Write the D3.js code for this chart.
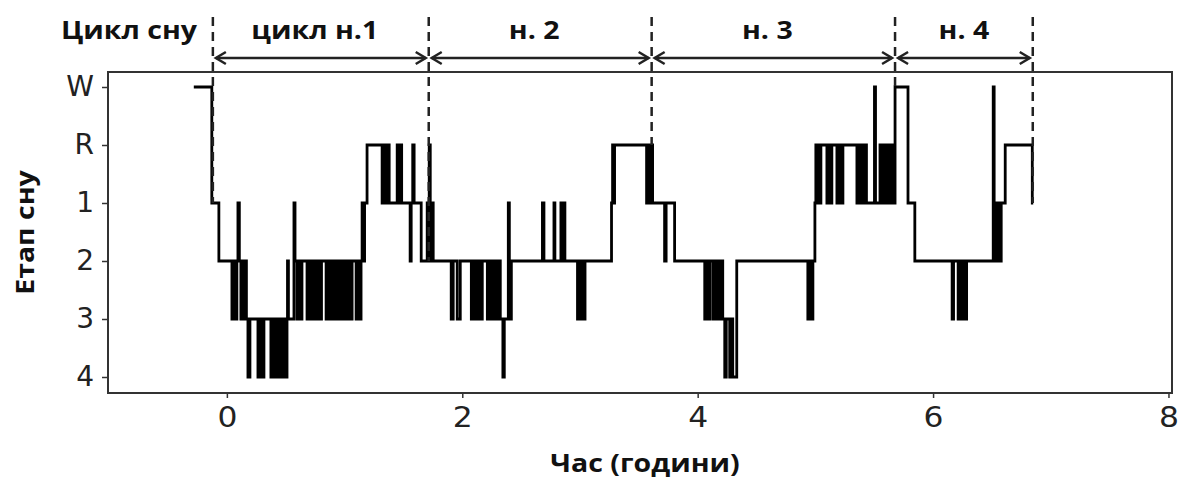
<!DOCTYPE html>
<html>
<head>
<meta charset="utf-8">
<script src="https://cdn.jsdelivr.net/npm/d3@7"></script>
<style>
  body { margin: 0; background: #fff; }
  svg { display: block; }
</style>
</head>
<body>
<svg id="chart"></svg>
<script>
// ── Data ──────────────────────────────────────────────────────────────────
// Sleep stages top to bottom, x ticks in hours
const stageLabels = ["W", "R", "1", "2", "3", "4"];
const hourTicks   = [0, 2, 4, 6, 8];

// Hypnogram as [hour, stage] change points (step after), one array per cycle
const cycle1Steps = [
  [-0.281, "W"], [-0.128, "1"], [-0.068, "2"],
  [0.043, "3"], [0.060, "2"], [0.068, "3"], [0.085, "2"], [0.094, "1"], [0.106, "2"],
  [0.119, "3"], [0.136, "2"], [0.145, "3"], [0.157, "2"], [0.166, "3"],
  [0.179, "4"], [0.196, "3"], [0.264, "4"], [0.281, "3"], [0.298, "4"], [0.315, "3"],
  [0.374, "4"], [0.391, "3"], [0.409, "4"], [0.426, "3"],
  [0.438, "4"], [0.451, "3"], [0.460, "4"], [0.472, "3"], [0.481, "4"], [0.494, "3"], [0.502, "4"], [0.511, "3"],
  [0.515, "2"], [0.523, "3"], [0.570, "1"], [0.579, "2"],
  [0.596, "3"], [0.613, "2"], [0.621, "3"], [0.638, "2"],
  [0.681, "3"], [0.698, "2"], [0.706, "3"], [0.723, "2"], [0.732, "3"], [0.749, "2"],
  [0.757, "3"], [0.774, "2"], [0.783, "3"], [0.804, "2"],
  [0.843, "3"], [0.860, "2"], [0.868, "3"], [0.885, "2"], [0.894, "3"], [0.911, "2"],
  [0.919, "3"], [0.936, "2"], [0.945, "3"], [0.962, "2"], [0.970, "3"], [0.987, "2"],
  [0.996, "3"], [1.013, "2"], [1.021, "3"], [1.038, "2"], [1.047, "3"], [1.064, "2"],
  [1.098, "3"], [1.115, "2"], [1.123, "3"], [1.140, "2"],
  [1.149, "1"], [1.162, "2"], [1.170, "1"], [1.191, "R"],
  [1.319, "1"], [1.336, "R"], [1.349, "1"], [1.362, "R"], [1.379, "1"],
  [1.447, "R"], [1.464, "1"], [1.472, "R"], [1.485, "1"],
  [1.557, "2"], [1.566, "1"], [1.579, "R"], [1.591, "1"], [1.651, "2"],
  [1.702, "1"], [1.711, "2"], [1.719, "R"], [1.728, "1"], [1.736, "2"], [1.745, "1"]
];

const cycle2Steps = [
  [1.753, "2"],
  [1.906, "3"], [1.923, "2"], [1.957, "3"], [1.983, "2"],
  [2.077, "3"], [2.089, "2"], [2.102, "3"], [2.119, "2"], [2.128, "3"], [2.145, "2"], [2.153, "3"], [2.170, "2"],
  [2.213, "3"], [2.230, "2"], [2.238, "3"], [2.251, "2"], [2.260, "3"], [2.272, "2"],
  [2.281, "3"], [2.294, "2"], [2.302, "3"], [2.315, "2"], [2.323, "3"],
  [2.345, "4"], [2.357, "3"], [2.391, "1"], [2.400, "2"], [2.409, "3"], [2.417, "2"],
  [2.681, "1"], [2.694, "2"], [2.779, "1"], [2.787, "2"],
  [2.838, "1"], [2.851, "2"], [2.860, "1"], [2.872, "2"],
  [2.979, "3"], [2.996, "2"], [3.004, "3"], [3.021, "2"], [3.030, "3"], [3.043, "2"],
  [3.268, "1"], [3.277, "R"], [3.285, "1"], [3.294, "R"],
  [3.566, "1"], [3.574, "R"], [3.583, "1"], [3.591, "R"], [3.600, "1"], [3.609, "R"], [3.617, "1"],
  [3.719, "2"], [3.732, "1"]
];

const cycle3Steps = [
  [3.804, "2"],
  [4.060, "3"], [4.077, "2"], [4.089, "3"], [4.102, "2"],
  [4.128, "3"], [4.140, "2"], [4.149, "3"], [4.162, "2"], [4.170, "3"], [4.183, "2"],
  [4.191, "3"], [4.204, "2"], [4.213, "3"],
  [4.230, "4"], [4.243, "3"], [4.272, "4"], [4.289, "3"], [4.298, "4"], [4.332, "2"],
  [4.936, "3"], [4.953, "2"], [4.962, "3"], [4.979, "2"],
  [4.996, "1"], [5.004, "R"], [5.013, "1"], [5.021, "R"], [5.034, "1"], [5.047, "R"],
  [5.098, "1"], [5.115, "R"], [5.128, "1"], [5.140, "R"],
  [5.183, "1"], [5.200, "R"], [5.217, "1"], [5.234, "R"],
  [5.353, "1"], [5.366, "R"], [5.379, "1"], [5.391, "R"], [5.404, "1"], [5.421, "R"], [5.434, "1"],
  [5.502, "W"], [5.511, "1"], [5.549, "R"], [5.566, "1"], [5.583, "R"],
  [5.600, "1"], [5.617, "R"], [5.634, "1"], [5.643, "R"], [5.660, "1"]
];

const cycle4Steps = [
  [5.677, "W"], [5.787, "1"], [5.845, "2"],
  [6.162, "3"], [6.174, "2"], [6.213, "3"], [6.230, "2"], [6.238, "3"], [6.255, "2"], [6.264, "3"], [6.285, "2"],
  [6.511, "W"], [6.519, "2"], [6.528, "1"], [6.540, "2"], [6.553, "1"], [6.570, "2"], [6.579, "1"],
  [6.613, "R"], [6.843, "1"], [6.851, "1"]
];

// Cycle boundaries (hours) and the labels between them
const cycleBounds = [-0.119, 1.715, 3.609, 5.677, 6.847];
const cycleNames  = ["цикл н.1", "н. 2", "н. 3", "н. 4"];
const cycleTitle  = "Цикл сну";
const xTitle      = "Час (години)";
const yTitle      = "Етап сну";

// ── Layout ────────────────────────────────────────────────────────────────
const W = 1180, H = 478;
const margin = { top: 72, right: 8, bottom: 85, left: 108 };
const w = W - margin.left - margin.right;
const h = H - margin.top - margin.bottom;
const arrowY = 58;
const stretch = 1.14;   // source lettering is wide

const root = d3.select("#chart").attr("width", W).attr("height", H);
root.append("rect").attr("width", W).attr("height", H).attr("fill", "#fff");

const svg = root.append("g")
    .attr("transform", `translate(${margin.left},${margin.top})`);

const steps = cycle1Steps.concat(cycle2Steps, cycle3Steps, cycle4Steps);

// ── Scales ────────────────────────────────────────────────────────────────
const x = d3.scaleLinear().domain([-1.01, 8.03]).range([0, w]);
const y = d3.scalePoint().domain(stageLabels).range([15, 305]);

function widen(sel, k) {
    sel.each(function() {
        const len = this.getComputedTextLength();
        d3.select(this).attr("textLength", len * k).attr("lengthAdjust", "spacingAndGlyphs");
    });
}

// ── Axes ──────────────────────────────────────────────────────────────────
const yAxis = svg.append("g")
    .call(d3.axisLeft(y).tickSize(6).tickPadding(8))
    .call(g => g.select(".domain").remove());
yAxis.selectAll("line").attr("stroke", "#333").attr("stroke-width", 1.5);
yAxis.selectAll("text")
    .attr("font-family", "DejaVu Sans").attr("font-size", 28).attr("fill", "#222");

const xAxis = svg.append("g")
    .attr("transform", `translate(0,${h})`)
    .call(d3.axisBottom(x).tickValues(hourTicks).tickSize(5).tickPadding(9))
    .call(g => g.select(".domain").remove());
xAxis.selectAll("line").attr("stroke", "#333").attr("stroke-width", 1.5);
xAxis.selectAll("text")
    .attr("font-family", "DejaVu Sans").attr("font-size", 28).attr("fill", "#222")
    .call(widen, 1.12);

// ── Frame ─────────────────────────────────────────────────────────────────
svg.append("rect")
    .attr("width", w).attr("height", h)
    .attr("fill", "none").attr("stroke", "#333").attr("stroke-width", 2);

// ── Cycle boundaries (dashed) ─────────────────────────────────────────────
const bisect = d3.bisector(d => d[0]).right;
function stageAt(t) {
    const i = Math.max(0, bisect(steps, t) - 1);
    return steps[i][1];
}

root.append("g").selectAll("line")
    .data(cycleBounds)
    .join("line")
    .attr("x1", d => margin.left + x(d)).attr("x2", d => margin.left + x(d))
    .attr("y1", 17)
    .attr("y2", d => margin.top + y(stageAt(d)))
    .attr("stroke", "#222").attr("stroke-width", 2.5)
    .attr("stroke-dasharray", "9,6");

// ── Hypnogram ─────────────────────────────────────────────────────────────
svg.append("path")
    .datum(steps)
    .attr("fill", "none")
    .attr("stroke", "#000")
    .attr("stroke-width", 2.8)
    .attr("d", d3.line()
        .x(d => x(d[0]))
        .y(d => y(d[1]))
        .curve(d3.curveStepAfter));

// ── Cycle arrows + labels ─────────────────────────────────────────────────
const spans = cycleNames.map((name, i) => ({
    name, a: cycleBounds[i], b: cycleBounds[i + 1]
}));

const arrows = root.append("g")
    .attr("stroke", "#222").attr("stroke-width", 2.5).attr("fill", "none");

spans.forEach(s => {
    const x0 = margin.left + x(s.a) + 3;
    const x1 = margin.left + x(s.b) - 3;
    arrows.append("line").attr("x1", x0).attr("x2", x1).attr("y1", arrowY).attr("y2", arrowY);
    arrows.append("path").attr("d", `M${x0 + 10},${arrowY - 6}L${x0},${arrowY}L${x0 + 10},${arrowY + 6}`);
    arrows.append("path").attr("d", `M${x1 - 10},${arrowY - 6}L${x1},${arrowY}L${x1 - 10},${arrowY + 6}`);
});

const boldText = (sel) => sel
    .attr("font-family", "Open Sans")
    .attr("font-weight", 700)
    .attr("font-size", 25)
    .attr("fill", "#111")
    .attr("text-anchor", "middle");

root.append("g").selectAll("text")
    .data(spans)
    .join("text")
    .attr("x", d => margin.left + (x(d.a) + x(d.b)) / 2 - (d.b - d.a > 1.8 ? 6 : 0))
    .attr("y", 39)
    .text(d => d.name)
    .call(boldText)
    .call(widen, stretch);

root.append("text")
    .attr("x", 129).attr("y", 39)
    .text(cycleTitle)
    .call(boldText)
    .call(widen, stretch);

// ── Axis titles ───────────────────────────────────────────────────────────
root.append("text")
    .attr("x", margin.left + w / 2 + 5).attr("y", 472)
    .text(xTitle)
    .call(boldText)
    .call(widen, stretch);

root.append("text")
    .attr("transform", `translate(34,${margin.top + h / 2}) rotate(-90)`)
    .text(yTitle)
    .call(boldText)
    .call(widen, stretch);
</script>
</body>
</html>
